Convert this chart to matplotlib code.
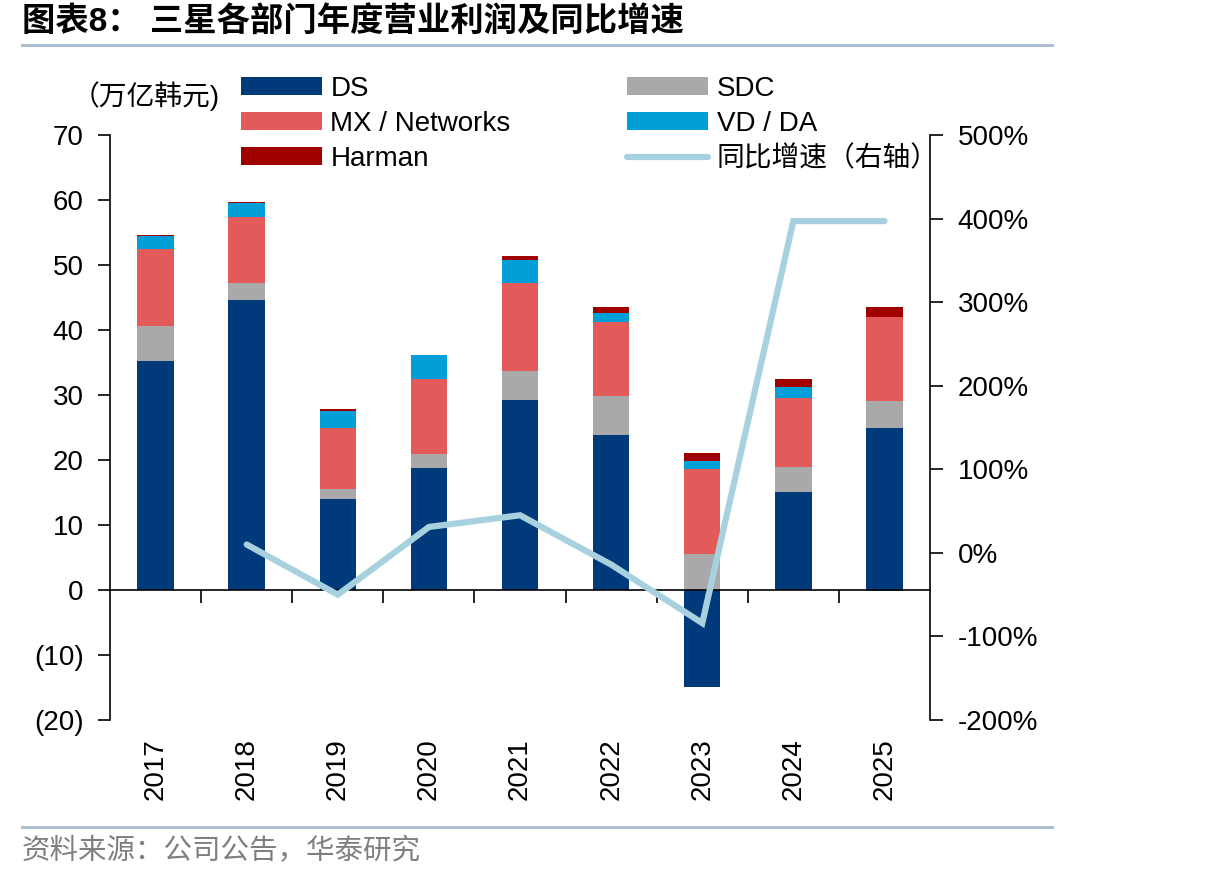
import numpy as np
import matplotlib.pyplot as plt
import matplotlib as mpl
from matplotlib.ticker import FuncFormatter

years = ['2017', '2018', '2019', '2020', '2021', '2022', '2023', '2024', '2025']
ds = [35.2, 44.6, 14.0, 18.8, 29.2, 23.8, -14.9, 15.1, 24.9]
sdc = [5.4, 2.6, 1.6, 2.2, 4.5, 6.0, 5.6, 3.8, 4.2]
mx = [11.8, 10.2, 9.3, 11.5, 13.6, 11.4, 13.0, 10.6, 12.9]
vd = [2.1, 2.1, 2.6, 3.6, 3.5, 1.4, 1.3, 1.7, -0.2]
harman = [0.1, 0.2, 0.3, 0.1, 0.6, 0.9, 1.2, 1.3, 1.5]
yoy = [np.nan, 10, -50, 31, 45, -14, -84, 397, 397]  # %

series_names = ['DS', 'SDC', 'MX / Networks', 'VD / DA', 'Harman']
series_colors = ['#003A7A', '#A9A9A9', '#E35A5A', '#009FD7', '#A00000']
line_color = '#A8D1E0'

plt.rcParams['font.family'] = ['Liberation Sans', 'Noto Sans CJK SC']
plt.rcParams['axes.unicode_minus'] = False

fontsize = 20

fig = plt.figure(figsize=(12.08, 8.81), dpi=100)
ax = fig.add_axes([0.0911, 0.1827, 0.6788, 0.6641])

x = np.arange(len(years))
bar_width = 0.4

# stack positives and negatives separately
pos_base = np.zeros(len(years))
neg_base = np.zeros(len(years))
bar_handles = {}
for name, vals, col in zip(series_names, [ds, sdc, mx, vd, harman], series_colors):
    vals = np.array(vals, dtype=float)
    bottoms = np.where(vals >= 0, pos_base, neg_base)
    b = ax.bar(x, vals, bar_width, bottom=bottoms, color=col, zorder=2)
    bar_handles[name] = b
    pos_base = pos_base + np.where(vals >= 0, vals, 0)
    neg_base = neg_base + np.where(vals < 0, vals, 0)

ax.set_xlim(-0.5, len(years) - 0.5)
ax.set_ylim(-20, 70)
ax.set_yticks(np.arange(-20, 71, 10))


def left_fmt(v, pos):
    if v < 0:
        return '(%d)' % abs(v)
    return '%d' % v


ax.yaxis.set_major_formatter(FuncFormatter(left_fmt))
ax.tick_params(axis='y', which='major', labelsize=fontsize, length=9, width=1.2, direction='out', pad=10)

# x axis: zero line with ticks between categories, labels at bottom
for s in ['top', 'right']:
    ax.spines[s].set_visible(False)
ax.spines['bottom'].set_position(('data', 0))
ax.spines['bottom'].set_linewidth(1.2)
ax.spines['left'].set_linewidth(1.2)
ax.set_xticks(np.arange(0.5, len(years) - 1, 1.0))
ax.set_xticklabels([])
ax.tick_params(axis='x', length=9, width=1.2, direction='out')

secax = ax.secondary_xaxis(0)
secax.set_xticks(x)
secax.set_xticklabels(years, rotation=90, fontsize=fontsize)
secax.tick_params(length=0, pad=13)
secax.spines['bottom'].set_visible(False)

# right axis
ax2 = ax.twinx()
ax2.set_ylim(-200, 500)
ax2.set_yticks(np.arange(-200, 501, 100))
ax2.yaxis.set_major_formatter(FuncFormatter(lambda v, p: '%d%%' % v))
ax2.tick_params(axis='y', labelsize=fontsize, length=9, width=1.2, direction='out', pad=11)
for s in ['top', 'left', 'bottom']:
    ax2.spines[s].set_visible(False)
ax2.spines['right'].set_linewidth(1.2)
line_h, = ax2.plot(x, yoy, color=line_color, linewidth=4.5, solid_capstyle='round',
                   solid_joinstyle='miter', zorder=3)

# legend
handles = [bar_handles['DS'], bar_handles['MX / Networks'], bar_handles['Harman'],
           bar_handles['SDC'], bar_handles['VD / DA'], line_h]
labels = ['DS', 'MX / Networks', 'Harman', 'SDC', 'VD / DA', '同比增速（右轴）']
fig.legend(handles, labels, ncol=2, loc='upper left', bbox_to_anchor=(0.1995, 0.914),
           frameon=False, fontsize=fontsize, handlelength=2.9, handleheight=0.6,
           handletextpad=0.32, labelspacing=0.33, columnspacing=4.2,
           borderpad=0, borderaxespad=0)

fig.text(0.182, 0.891, '（万亿韩元)', fontsize=fontsize, ha='right', va='center')

# title, rules, source
fig.text(0.018, 0.975, '图表8： 三星各部门年度营业利润及同比增速', fontsize=24,
         fontweight='bold', ha='left', va='center')
fig.add_artist(mpl.lines.Line2D([0.018, 0.871], [0.949, 0.949], color='#A6B9CF',
                                linewidth=2, transform=fig.transFigure))
fig.add_artist(mpl.lines.Line2D([0.018, 0.871], [0.061, 0.061], color='#A6B9CF',
                                linewidth=2, transform=fig.transFigure))
fig.text(0.018, 0.034, '资料来源：公司公告，华泰研究', fontsize=20.5, color='#7F7F7F',
         ha='left', va='center')

plt.savefig('out.png', dpi=100)
